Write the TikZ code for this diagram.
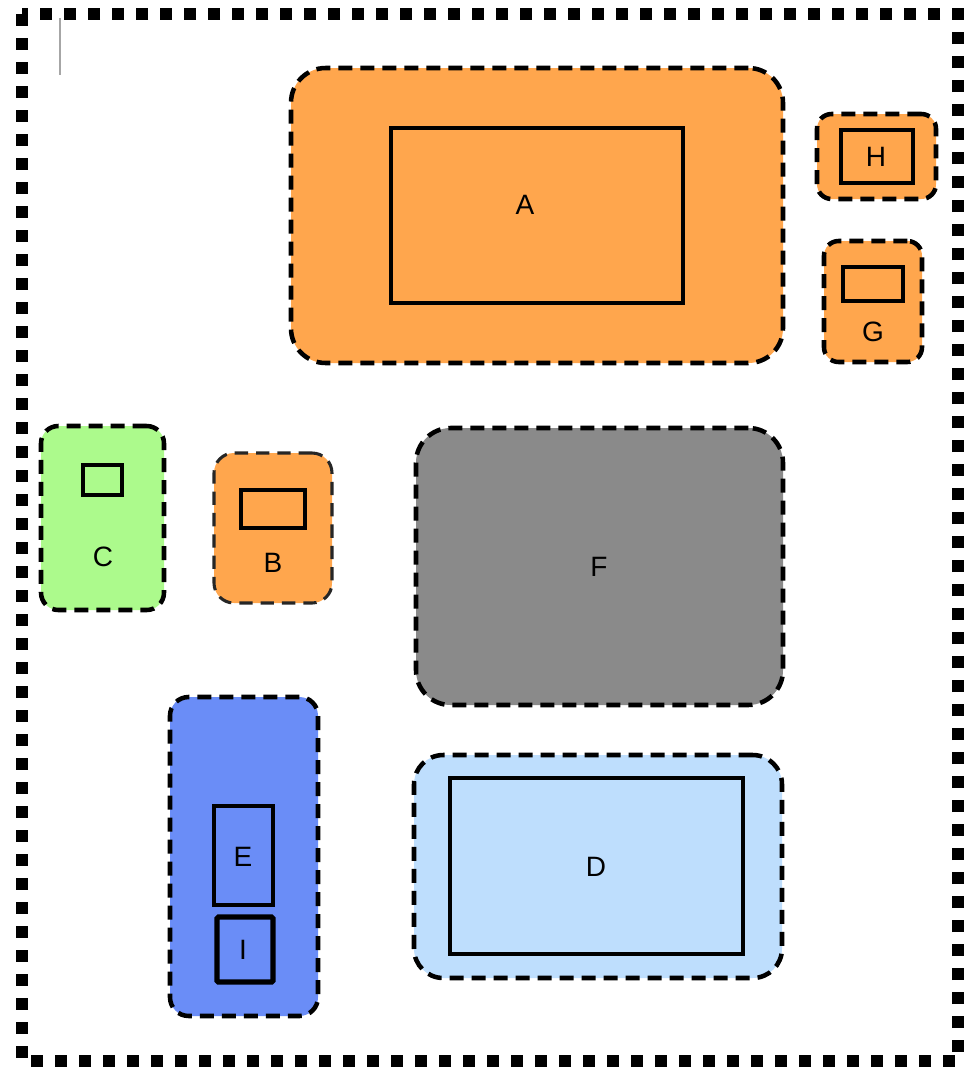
\documentclass[tikz,border=0pt]{standalone}
\usepackage{fontspec}
\setmainfont{Liberation Sans}
\definecolor{cOrange}{RGB}{255,166,77}
\definecolor{cGreen}{RGB}{172,250,140}
\definecolor{cBlue}{RGB}{106,141,247}
\definecolor{cLight}{RGB}{190,222,253}
\definecolor{cGray}{RGB}{138,138,138}
\tikzset{
  grp/.style={draw=black, line width=3.4pt, dash pattern=on 10.5pt off 6pt, rounded corners=#1, inner sep=0pt, outer sep=0pt},
  grp/.default=20pt,
  inbox/.style={draw=black, line width=2.4pt, inner sep=0pt, outer sep=0pt},
  lbl/.style={font=\fontsize{21}{24}\selectfont, inner sep=0pt}
}
\begin{document}
\begin{tikzpicture}[x=0.75pt,y=-0.75pt]
\useasboundingbox (0,0) rectangle (964,1068);
% outer border
\draw[line width=9pt, dash pattern=on 9pt off 9pt] (22,14) rectangle (958,1061);
\coordinate (c1) at (60,18);
\coordinate (c2) at (60,75);
\draw[gray!70, line width=1pt] (c1) -- (c2);
% A
\node[grp=26pt, fill=cOrange, minimum width=369pt, minimum height=221.25pt] (Ao) at (537,215.5) {};
\node[inbox, minimum width=219pt, minimum height=131.25pt] (Ai) at (537,215.5) {};
\node[lbl] (Al) at (525,205) {A};
% H
\node[grp=11pt, fill=cOrange, minimum width=89.25pt, minimum height=63.75pt] (Ho) at (876.5,156.5) {};
\node[inbox, minimum width=54pt, minimum height=39.75pt] (Hi) at (877,156.5) {};
\node[lbl] (Hl) at (876,157) {H};
% G
\node[grp=11pt, fill=cOrange, minimum width=73.5pt, minimum height=90.75pt] (Go) at (873,301.5) {};
\node[inbox, minimum width=45pt, minimum height=25.5pt] (Gi) at (873,284) {};
\node[lbl] (Gl) at (873,332) {G};
% C
\node[grp=13pt, fill=cGreen, minimum width=92.25pt, minimum height=138pt] (Co) at (102.5,518) {};
\node[inbox, minimum width=29.25pt, minimum height=22.5pt] (Ci) at (102.5,480) {};
\node[lbl] (Cl) at (103,557) {C};
% B
\node[grp=15pt, fill=cOrange, line width=2.3pt, dash pattern=on 10pt off 6pt, draw=black!85, minimum width=88.5pt, minimum height=112.5pt] (Bo) at (273,528) {};
\node[inbox, minimum width=48pt, minimum height=28.5pt] (Bi) at (273,509) {};
\node[lbl] (Bl) at (273,563) {B};
% F
\node[grp=26pt, fill=cGray, minimum width=275.25pt, minimum height=207.75pt] (Fo) at (599.5,566.5) {};
\node[lbl] (Fl) at (599,567) {F};
% E group
\node[grp=14pt, fill=cBlue, minimum width=111pt, minimum height=239.25pt] (EIo) at (244,856.5) {};
\node[inbox, minimum width=44.25pt, minimum height=74.25pt] (Ei) at (243.5,855.5) {};
\node[lbl] (El) at (243,857) {E};
\node[inbox, line width=3.8pt, rounded corners=1pt, minimum width=42pt, minimum height=48.75pt] (Ii) at (245,949.5) {};
\node[lbl] (Il) at (243,950) {I};
% D
\node[grp=22pt, fill=cLight, minimum width=276pt, minimum height=167.25pt] (Do) at (598,866.5) {};
\node[inbox, minimum width=219.75pt, minimum height=132pt] (Di) at (596.5,866) {};
\node[lbl] (Dl) at (596,867) {D};
\end{tikzpicture}
\end{document}
